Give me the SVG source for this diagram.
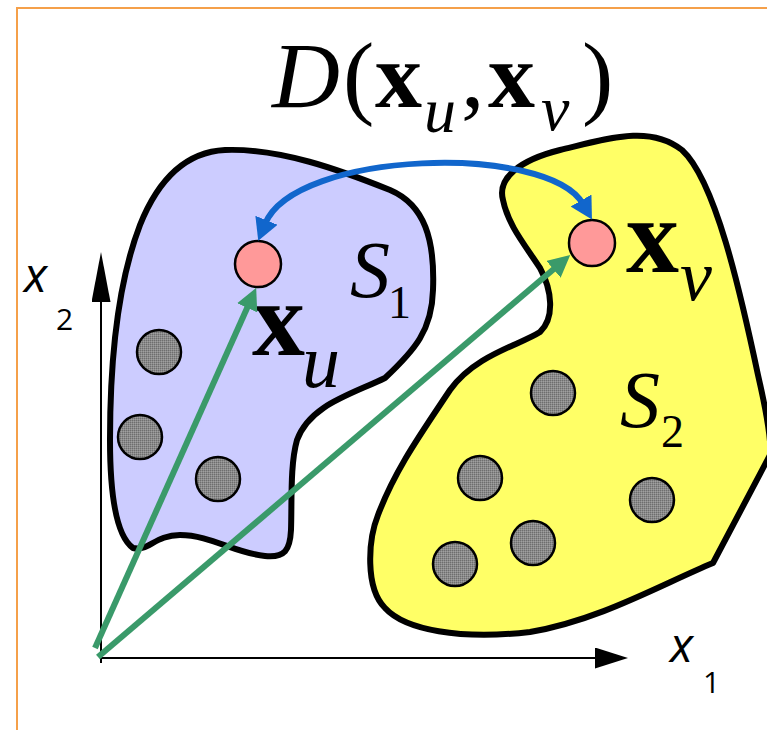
<svg xmlns="http://www.w3.org/2000/svg" width="767" height="730" viewBox="0 0 767 730">
<style>
.blob{stroke:#000;stroke-width:6;stroke-linejoin:round}
.dot{fill:url(#dither);stroke:#000;stroke-width:2.5}
.pt{fill:#FF9999;stroke:#000;stroke-width:2.5}
.serif{font-family:"Liberation Serif","Times New Roman",serif;fill:#000}
.sans{font-family:"Open Sans","Noto Sans",sans-serif;fill:#000}
.vec{fill:none;stroke:#3A9A6A;stroke-width:6}
.dist{fill:none;stroke:#1166CC;stroke-width:6}
.axis{fill:none;stroke:#000;stroke-width:2}
</style>
<defs>
<pattern id="dither" width="2" height="2" patternUnits="userSpaceOnUse">
<rect width="2" height="2" fill="#8a8a8a"/>
<rect width="1" height="1" fill="#6e6e6e"/>
<rect x="1" y="1" width="1" height="1" fill="#a0a0a0"/>
</pattern>
<marker id="ag" viewBox="0 0 22 22" markerWidth="22" markerHeight="22" refX="2" refY="11" orient="auto" markerUnits="userSpaceOnUse">
<path d="M0,0 L22,11 L0,22 Z" fill="#3A9A6A"/>
</marker>
<marker id="ab" viewBox="0 0 22 24" markerWidth="22" markerHeight="24" refX="4" refY="12" orient="auto-start-reverse" markerUnits="userSpaceOnUse">
<path d="M0,0 L22,12 L0,24 Z" fill="#1166CC"/>
</marker>
<marker id="av" viewBox="0 0 50 19" markerWidth="50" markerHeight="19" refX="0" refY="9.5" orient="auto" markerUnits="userSpaceOnUse">
<path d="M0,0 L50,9.5 L0,19 Z" fill="#000"/>
</marker>
<marker id="ah" viewBox="0 0 33 21" markerWidth="33" markerHeight="21" refX="0" refY="10.5" orient="auto" markerUnits="userSpaceOnUse">
<path d="M0,0 L33,10.5 L0,21 Z" fill="#000"/>
</marker>
</defs>
<rect width="767" height="730" fill="#fff"/>
<g id="frame" fill="none" stroke="#F5A04A" stroke-width="2">
<path d="M17,730 L17,8 L767,8"/>
</g>
<g id="title">
<text class="serif" y="107" font-size="94">
<tspan x="272" font-style="italic">D</tspan><tspan x="343">(</tspan><tspan x="375" font-weight="bold">x</tspan><tspan x="424" y="132" font-size="64" font-style="italic">u</tspan><tspan x="461" y="107">,</tspan><tspan x="488" font-weight="bold">x</tspan><tspan x="541" y="130" font-size="64" font-style="italic">v</tspan><tspan x="582" y="107">)</tspan>
</text>
</g>
<g id="S1">
<path class="blob" fill="#CCCCFF" d="M133,548 C115,535 110,490 110,440 C110,370 115,290 140,225 C158,180 185,152 225,150 C280,148 340,170 390,190 C425,205 435,240 433,290 C432,330 415,350 385,378 C350,395 310,405 297,440 C290,465 292,500 291,530 C290,550 285,558 265,556 C235,553 210,535 180,535 C155,535 148,552 133,548 Z"/>
<circle class="dot" cx="159" cy="352" r="22"/>
<circle class="dot" cx="140" cy="437" r="22"/>
<circle class="dot" cx="218" cy="479" r="22"/>
<text class="serif" x="350" y="297" font-size="80" font-style="italic">S</text>
<text class="serif" x="388" y="318" font-size="46">1</text>
</g>
<g id="S2">
<path class="blob" fill="#FFFF66" d="M503,200 C497,178 520,160 560,150 C610,138 650,125 682,150 C715,180 740,290 758,375 C766,410 772,440 770,455 L713,563 C660,585 600,620 530,632 C460,640 405,630 385,608 C365,588 368,540 378,515 C395,470 420,435 450,390 C475,355 520,345 540,332 C555,318 552,290 540,268 C525,245 508,225 503,200 Z"/>
<circle class="dot" cx="553" cy="393" r="22"/>
<circle class="dot" cx="480" cy="478" r="22"/>
<circle class="dot" cx="652" cy="500" r="22"/>
<circle class="dot" cx="533" cy="543" r="22"/>
<circle class="dot" cx="455" cy="564" r="22"/>
<text class="serif" x="620" y="427" font-size="80" font-style="italic">S</text>
<text class="serif" x="661" y="447" font-size="46">2</text>
</g>
<g id="xu">
<circle class="pt" cx="258" cy="264" r="23"/>
<text class="serif" x="252" y="355" font-size="106" font-weight="bold">x</text>
<text class="serif" x="302" y="387" font-size="76" font-style="italic">u</text>
</g>
<g id="xv">
<circle class="pt" cx="592" cy="243" r="23"/>
<text class="serif" x="626" y="272" font-size="106" font-weight="bold">x</text>
<text class="serif" x="680" y="300" font-size="72" font-style="italic">v</text>
</g>
<g id="axes-labels">
<text class="sans" x="24" y="292" font-size="48" font-style="italic">x</text>
<text class="sans" x="56" y="330" font-size="30">2</text>
<text class="sans" x="670" y="662" font-size="48" font-style="italic">x</text>
<text class="sans" x="703" y="693" font-size="30">1</text>
</g>
<g id="connectors">
<path class="axis" d="M101,663 L101,302" marker-end="url(#av)"/>
<path class="axis" d="M100,658 L595,658" marker-end="url(#ah)"/>
<path class="vec" d="M95,648 L248,306" marker-end="url(#ag)"/>
<path class="vec" d="M98,657 L555,268" marker-end="url(#ag)"/>
<path class="dist" d="M265,224 C295,150 548,143 583,204" marker-start="url(#ab)" marker-end="url(#ab)"/>
</g>
</svg>
